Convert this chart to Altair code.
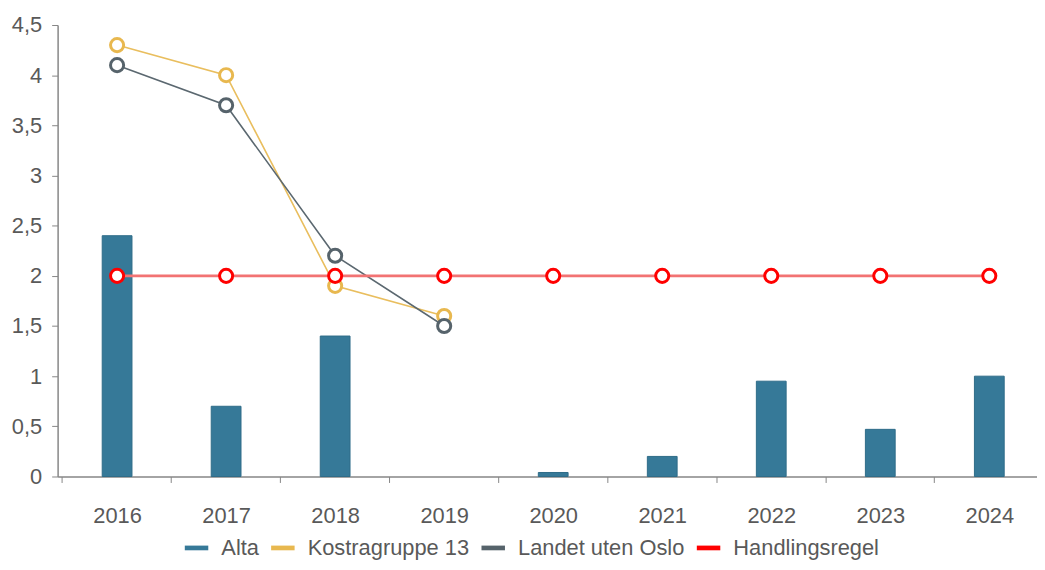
import altair as alt
import pandas as pd

years = [2016, 2017, 2018, 2019, 2020, 2021, 2022, 2023, 2024]
alta = [2.4, 0.7, 1.4, None, 0.04, 0.2, 0.95, 0.47, 1.0]
kostra = [4.3, 4.0, 1.9, 1.6, None, None, None, None, None]
landet = [4.1, 3.7, 2.2, 1.5, None, None, None, None, None]
handlingsregel = [2, 2, 2, 2, 2, 2, 2, 2, 2]

series_names = ["Alta", "Kostragruppe 13", "Landet uten Oslo", "Handlingsregel"]
legend_colors = ["#367998", "#E8B84F", "#56636B", "#FF0000"]
line_colors = ["#E9BE5E", "#5B6870", "#F27373"]
y_ticks = [0, 0.5, 1, 1.5, 2, 2.5, 3, 3.5, 4, 4.5]

rows = []
for name, vals in zip(series_names, [alta, kostra, landet, handlingsregel]):
    for y, v in zip(years, vals):
        if v is not None:
            rows.append({"year": y, "series": name, "value": v})
df = pd.DataFrame(rows)

FONT = "Liberation Sans"
TXT = "#595959"
FS = 22
W = 987
STEP = 111
X_MIN = years[0] - 0.5
X_MAX = X_MIN + W / STEP

x_enc = alt.X(
    "year:Q",
    title=None,
    scale=alt.Scale(domain=[X_MIN, X_MAX], nice=False, zero=False),
    axis=alt.Axis(
        values=years, format="d",
        labelFontSize=FS, labelFont=FONT, labelColor=TXT,
        domainColor="#868686", tickColor="#868686", tickSize=6,
        tickOffset=-STEP / 2, labelOffset=STEP / 2,
        labelPadding=23, grid=False, domainWidth=1.5, labelFlush=False,
        labelOverlap=False,
    ),
)
y_axis = alt.Axis(
    values=y_ticks, labelFontSize=FS, labelFont=FONT, labelColor=TXT,
    domainColor="#868686", tickColor="#868686", tickSize=6, labelPadding=10,
    grid=False, domainWidth=1.5,
    labelExpr="replace(format(datum.value, ''), '.', ',')",
)
y_scale = alt.Scale(domain=[0, 4.5], nice=False)
y_enc = alt.Y("value:Q", title=None, scale=y_scale, axis=y_axis)

bars = alt.Chart(df).transform_filter(alt.datum.series == "Alta").mark_bar(
    size=30, stroke="#2E6C88", strokeWidth=1
).encode(
    x=x_enc,
    y=y_enc,
    color=alt.Color(
        "series:N",
        scale=alt.Scale(domain=series_names, range=legend_colors),
        legend=alt.Legend(
            title=None, orient="none", direction="horizontal",
            legendX=128, legendY=515,
            symbolType="M-1,-0.2L1,-0.2L1,0.2L-1,0.2Z",
            symbolSize=560, symbolStrokeWidth=0,
            labelFontSize=FS, labelFont=FONT, labelColor=TXT, labelLimit=400,
            columnPadding=12, labelOffset=13,
        ),
    ),
)

lines = alt.Chart(df).transform_filter(alt.datum.series != "Alta").mark_line().encode(
    x=x_enc,
    y=y_enc,
    color=alt.Color(
        "series:N",
        scale=alt.Scale(domain=series_names[1:], range=line_colors),
        legend=None,
    ),
    strokeWidth=alt.condition(
        alt.datum.series == "Handlingsregel", alt.value(2.6), alt.value(1.6)
    ),
)

points = alt.Chart(df).transform_filter(alt.datum.series != "Alta").mark_point(
    shape="circle", filled=False, fill="white", fillOpacity=1, opacity=1,
    size=175, strokeWidth=3,
).encode(
    x=x_enc,
    y=y_enc,
    color=alt.Color(
        "series:N",
        scale=alt.Scale(domain=series_names[1:], range=legend_colors[1:]),
        legend=None,
    ),
)

chart = alt.layer(bars, lines, points).resolve_scale(color="independent").properties(
    width=W,
    height=455,
    padding={"left": 50, "top": 15, "right": 0, "bottom": 82},
    autosize=alt.AutoSizeParams(type="none"),
).configure(font=FONT).configure_view(stroke=None)

chart.save("out.html", embed_options={"renderer": "svg", "actions": False})
